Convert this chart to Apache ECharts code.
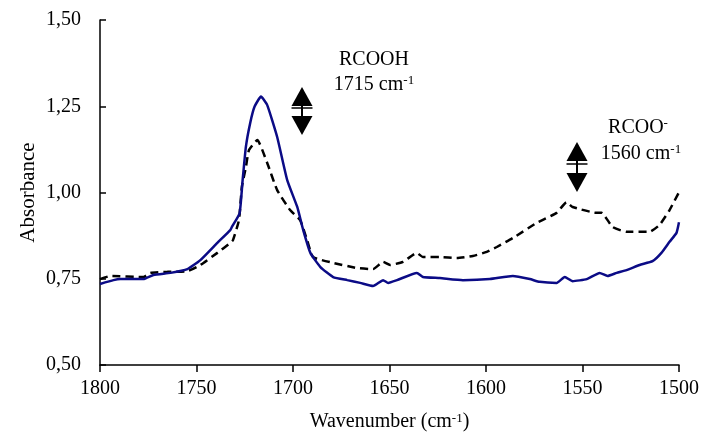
<!DOCTYPE html>
<html>
<head>
<meta charset="utf-8">
<script src="https://cdn.jsdelivr.net/npm/echarts@6/dist/echarts.min.js"></script>
<style>
html,body{margin:0;padding:0;background:#fff;}
#c{width:702px;height:437px;}
</style>
</head>
<body>
<div id="c"></div>
<script>
// Solid (navy) spectrum
const solidWavenumber = [1800,1793,1789.4,1777.5,1772.3,1763.5,1754.7,1748,1739.2,1732.5,1731.6,1727.7,1726.1,1724.4,1722.2,1719.9,1716.6,1713.4,1708.2,1703,1697.8,1694.7,1691,1685.8,1679.2,1671.9,1665.2,1658.5,1653.3,1650.7,1646.1,1635.8,1632.7,1623.9,1612,1598,1586.1,1577.3,1572.2,1563.4,1559.2,1555.1,1547.8,1541.1,1537,1532.3,1527.2,1520.4,1513.7,1509.1,1504.9,1501.3,1500];
const solidAbsorbance = [0.735,0.746,0.749,0.749,0.761,0.767,0.778,0.804,0.854,0.891,0.901,0.939,1.036,1.133,1.201,1.249,1.278,1.254,1.161,1.036,0.958,0.891,0.825,0.784,0.755,0.746,0.738,0.729,0.746,0.738,0.746,0.767,0.755,0.752,0.746,0.749,0.758,0.749,0.741,0.738,0.755,0.743,0.749,0.767,0.758,0.767,0.775,0.79,0.801,0.825,0.857,0.883,0.914];
// Dashed (black) spectrum
const dashedWavenumber = [1800,1794.6,1777.5,1773.9,1765.1,1754.7,1748,1739.2,1732.5,1731.1,1728,1726.5,1724.4,1722.8,1718.5,1713.4,1708.2,1701.5,1696.3,1692.7,1689.6,1679.2,1666.8,1658.5,1653.3,1649.7,1643,1635.8,1632.7,1623.9,1615.1,1606.8,1599.6,1594.4,1586.1,1573.7,1563.4,1558.3,1555.1,1542.7,1540.1,1534.4,1527.2,1515.3,1510.1,1504.9,1500];
const dashedAbsorbance = [0.749,0.758,0.755,0.767,0.77,0.772,0.79,0.825,0.854,0.862,0.92,1.016,1.074,1.123,1.152,1.086,1.007,0.949,0.92,0.862,0.813,0.796,0.781,0.778,0.799,0.79,0.799,0.825,0.813,0.813,0.81,0.816,0.828,0.842,0.868,0.912,0.941,0.972,0.958,0.941,0.941,0.9,0.886,0.886,0.906,0.949,1.001];

const yTicks = ['0,50','0,75','1,00','1,25','1,50'];

const FONT = '"Liberation Serif", "DejaVu Serif", serif';
const chart = echarts.init(document.getElementById('c'));

function pairs(xs, ys){ return xs.map((x,i)=>[x, ys[i]]); }

function arrow(cx, top, bottom){
  const w = 21, th = 19;
  return [
    {type:'polygon', shape:{points:[[cx,top],[cx-w/2,top+th],[cx+w/2,top+th]]}, style:{fill:'#000'}},
    {type:'polygon', shape:{points:[[cx,bottom],[cx-w/2,bottom-th],[cx+w/2,bottom-th]]}, style:{fill:'#000'}},
    {type:'line', shape:{x1:cx,y1:top+th,x2:cx,y2:bottom-th}, style:{stroke:'#000', lineWidth:2}},
    {type:'line', shape:{x1:cx-w/2,y1:(top+bottom)/2-3,x2:cx+w/2,y2:(top+bottom)/2-3}, style:{stroke:'#000', lineWidth:1.5}}
  ];
}
const rich = {
  n:{fontFamily:FONT, fontSize:20, lineHeight:22, fill:'#000', color:'#000'},
  s:{fontFamily:FONT, fontSize:13, lineHeight:13, verticalAlign:'top', fill:'#000', color:'#000'}
};
function txt(x, y, s){
  return {type:'text', x:x, y:y, style:{text:s, rich:rich, font:'20px '+FONT, align:'center', verticalAlign:'middle', fill:'#000'}};
}

chart.setOption({
  animation:false,
  backgroundColor:'#fff',
  grid:{left:100, right:23, top:20, bottom:72},
  xAxis:{
    type:'value', inverse:true, min:1500, max:1800, interval:50,
    name:'Wavenumber (cm{s|-1})', nameLocation:'middle', nameGap:47,
    nameTextStyle:{fontFamily:FONT, fontSize:20, color:'#000', rich:{s:{fontFamily:FONT, fontSize:13, verticalAlign:'top', lineHeight:13, color:'#000'}}},
    axisLine:{lineStyle:{color:'#000', width:1.5}},
    axisTick:{show:true, inside:false, length:7, lineStyle:{color:'#000', width:1.5}},
    axisLabel:{color:'#000', fontFamily:FONT, fontSize:20, margin:14, formatter:(v)=>String(v)},
    splitLine:{show:false}
  },
  yAxis:{
    type:'value', min:0.5, max:1.5, interval:0.25,
    name:'Absorbance', nameLocation:'middle', nameGap:61, nameRotate:90, nameMoveOverlap:false,
    nameTextStyle:{fontFamily:FONT, fontSize:21, color:'#000'},
    axisLine:{show:true, lineStyle:{color:'#000', width:1.5}},
    axisTick:{show:true, inside:true, length:6, lineStyle:{color:'#000', width:1.5}},
    axisLabel:{color:'#000', fontFamily:FONT, fontSize:20, margin:19, formatter:(v)=>yTicks[Math.round((v-0.5)/0.25)]},
    splitLine:{show:false}
  },
  series:[
    {type:'line', data:pairs(dashedWavenumber, dashedAbsorbance), showSymbol:false, smooth:0.15,
     lineStyle:{color:'#000', width:2.5, type:[8,5]}, z:2},
    {type:'line', data:pairs(solidWavenumber, solidAbsorbance), showSymbol:false, smooth:0.15,
     lineStyle:{color:'#0b0b86', width:2.5}, z:3}
  ],
  graphic:[].concat(
    arrow(302, 87, 135),
    arrow(577, 142, 192),
    [txt(374, 60, '{n|RCOOH}'),
     txt(374, 85, '{n|1715 cm}{s|-1}'),
     txt(638, 128, '{n|RCOO}{s|-}'),
     txt(641, 154, '{n|1560 cm}{s|-1}')]
  )
});
</script>
</body>
</html>
